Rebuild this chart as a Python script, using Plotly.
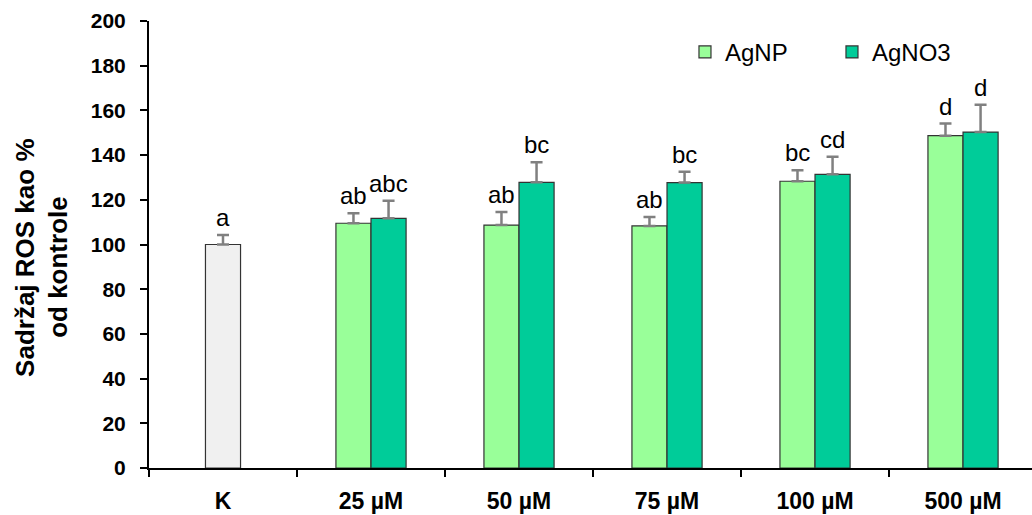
import plotly.graph_objects as go

# Categories and measured ROS content (% of control) with SD
categories = ["K", "25 µM", "50 µM", "75 µM", "100 µM", "500 µM"]
control_value = [100.0]
control_err = [4.2]
control_letter = ["a"]

agnp_values = [109.5, 108.7, 108.3, 128.3, 148.7]
agnp_err = [4.5, 5.8, 4.0, 4.9, 5.4]
agnp_letters = ["ab", "ab", "ab", "bc", "d"]

agno3_values = [111.7, 127.8, 127.7, 131.4, 150.3]
agno3_err = [7.9, 9.0, 4.9, 7.9, 12.2]
agno3_letters = ["abc", "bc", "bc", "cd", "d"]

y_ticks = list(range(0, 201, 20))
title_lines = ["Sadržaj ROS kao %", "od kontrole"]

FONT = "Arial, Liberation Sans, sans-serif"
BAR_W = 0.237
conc_x = [1, 2, 3, 4, 5]

err_style = dict(type="data", symmetric=False, color="#808080",
                 thickness=2.5, width=6)

fig = go.Figure()

fig.add_trace(go.Bar(
    x=[0], y=control_value, width=BAR_W, offset=-BAR_W / 2,
    marker=dict(color="#F0F0F0", line=dict(color="#333333", width=1.2)),
    error_y=dict(array=control_err, arrayminus=[0], **err_style),
    showlegend=False, name="K",
))
fig.add_trace(go.Bar(
    x=conc_x, y=agnp_values, width=BAR_W, offset=-BAR_W,
    marker=dict(color="#99FF99", line=dict(color="#333333", width=1.2)),
    error_y=dict(array=agnp_err, arrayminus=[0] * len(agnp_err), **err_style),
    name="AgNP",
))
fig.add_trace(go.Bar(
    x=conc_x, y=agno3_values, width=BAR_W, offset=0,
    marker=dict(color="#00CC99", line=dict(color="#333333", width=1.2)),
    error_y=dict(array=agno3_err, arrayminus=[0] * len(agno3_err), **err_style),
    name="AgNO3",
))

# Significance letters above each error bar
def letter(x, y, text):
    fig.add_annotation(x=x, y=y, text=text, showarrow=False,
                       xanchor="center", yanchor="bottom", yshift=2,
                       font=dict(family=FONT, size=24, color="black"))

letter(0, control_value[0] + control_err[0], control_letter[0])
for i, cx in enumerate(conc_x):
    letter(cx - BAR_W / 2, agnp_values[i] + agnp_err[i], agnp_letters[i])
    letter(cx + BAR_W / 2, agno3_values[i] + agno3_err[i], agno3_letters[i])

# Two-line rotated y-axis title
for line, xs, yp in zip(title_lines, [-124, -91], [0.47, 0.45]):
    fig.add_annotation(x=0, y=yp, xref="paper", yref="paper", text=line,
                       showarrow=False, textangle=-90, xanchor="center",
                       yanchor="middle", xshift=xs,
                       font=dict(family=FONT, size=26, color="black",
                                 weight="bold"))

fig.update_layout(
    width=1032, height=515,
    margin=dict(l=149, r=0, t=21, b=47),
    paper_bgcolor="white", plot_bgcolor="white",
    barmode="overlay",
    font=dict(family=FONT, color="black"),
    legend=dict(orientation="h", x=0.607, y=0.93, xanchor="left",
                yanchor="middle", font=dict(size=24, family=FONT),
                entrywidth=102, entrywidthmode="pixels",
                bgcolor="rgba(0,0,0,0)"),
    xaxis=dict(
        range=[-0.5, 5.466], tickmode="array", automargin=False,
        tickvals=list(range(len(categories))), ticktext=categories,
        ticks="", showgrid=False, zeroline=False,
        showline=True, linecolor="black", linewidth=2,
        ticklabelstandoff=11,
        tickfont=dict(size=23, family=FONT, weight="bold"),
        minor=dict(tickmode="array",
                   tickvals=[i - 0.5 for i in range(len(categories) + 1)],
                   ticks="outside", ticklen=7, tickwidth=2, tickcolor="black"),
    ),
    yaxis=dict(
        range=[0, 200], tickmode="array", tickvals=y_ticks, automargin=False,
        ticks="outside", ticklen=7, tickwidth=2, tickcolor="black",
        showgrid=False, zeroline=False,
        showline=True, linecolor="black", linewidth=2,
        ticklabelstandoff=10,
        tickfont=dict(size=21, family=FONT, weight="bold"),
    ),
)

fig.write_html("out.html")
